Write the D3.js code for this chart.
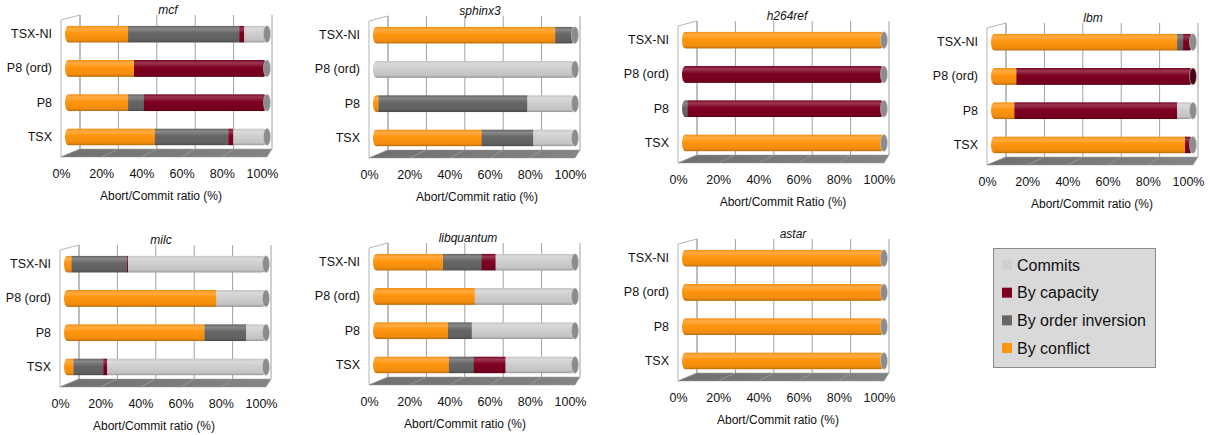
<!DOCTYPE html>
<html>
<head>
<meta charset="utf-8">
<script src="https://cdn.jsdelivr.net/npm/d3@7/dist/d3.min.js"></script>
<style>
  html, body { margin: 0; padding: 0; background: #fff; }
  svg { display: block; font-family: "Liberation Sans", Arial, sans-serif; }
</style>
</head>
<body>
<svg id="chart" width="1213" height="435"></svg>
<script>
// ---------------- DATA ----------------
const benchmarks = ["mcf", "sphinx3", "h264ref", "lbm", "milc", "libquantum", "astar"];
const configs = ["TSX-NI", "P8 (ord)", "P8", "TSX"];
const seriesKeys = ["conflict", "order", "capacity", "commits"];
const seriesNames = ["By conflict", "By order inversion", "By capacity", "Commits"];
const legendOrder = ["commits", "capacity", "order", "conflict"];
const tickValues = [0, 20, 40, 60, 80, 100];
const xTitles = ["Abort/Commit ratio (%)", "Abort/Commit ratio (%)", "Abort/Commit Ratio (%)",
                 "Abort/Commit ratio (%)", "Abort/Commit ratio (%)", "Abort/Commit ratio (%)",
                 "Abort/Commit ratio (%)"];

// values per benchmark, one entry per config (TSX-NI, P8 (ord), P8, TSX), in %
const byConflict = [
  [30, 33, 30, 43.5],
  [90, 0, 1, 53],
  [99.5, 0, 0, 99.5],
  [92, 11, 10, 96],
  [2, 75, 69, 3],
  [33.5, 49.5, 36, 36.5],
  [99.5, 99.5, 99.5, 99.5]
];
const byOrder = [
  [56, 0, 8, 37],
  [9.5, 0, 75, 26],
  [0, 0, 1, 0],
  [3, 0, 0, 0],
  [28, 0, 21, 15],
  [19.5, 0, 12, 12.5],
  [0, 0, 0, 0]
];
const byCapacity = [
  [2.5, 66, 61, 2.5],
  [0, 0, 0, 0],
  [0, 99.5, 98.5, 0],
  [4.5, 89, 82, 3.5],
  [0.5, 0, 0, 2],
  [7, 0, 0, 16],
  [0, 0, 0, 0]
];
const commits = [
  [11.5, 1, 1, 17],
  [0.5, 100, 24, 21],
  [0.5, 0.5, 0.5, 0.5],
  [0.5, 0, 8, 0.5],
  [69.5, 25, 10, 80],
  [40, 50.5, 52, 35],
  [0.5, 0.5, 0.5, 0.5]
];

// ---------------- LAYOUT / STYLE ----------------
const layout = [
  {L: 61,  T: 15,  tx: 168, ax: 161},
  {L: 369, T: 16,  tx: 480, ax: 477},
  {L: 678, T: 21,  tx: 787, ax: 783},
  {L: 987, T: 23,  tx: 1093, ax: 1092},
  {L: 60,  T: 245, tx: 161, ax: 154},
  {L: 369, T: 243, tx: 468, ax: 465},
  {L: 678, T: 239, tx: 793, ax: 778}
];
const colors = {conflict: "#ff950e", order: "#666666", capacity: "#7e0021", commits: "#cfcfcf"};
const capColors = {conflict: "#b86600", order: "#555555", capacity: "#4a0013", commits: "#8c8c8c"};

const svg = d3.select("#chart");
const defs = svg.append("defs");

// cylinder gradients
Object.entries(colors).forEach(([k, c]) => {
  const g = defs.append("linearGradient").attr("id", "grad-" + k)
    .attr("x1", 0).attr("y1", 0).attr("x2", 0).attr("y2", 1);
  const light = d3.interpolateRgb(c, "#ffffff")(0.22);
  const dark = d3.interpolateRgb(c, "#000000")(0.28);
  const mid = d3.interpolateRgb(c, "#000000")(0.06);
  g.append("stop").attr("offset", "0%").attr("stop-color", mid);
  g.append("stop").attr("offset", "18%").attr("stop-color", light);
  g.append("stop").attr("offset", "45%").attr("stop-color", c);
  g.append("stop").attr("offset", "85%").attr("stop-color", mid);
  g.append("stop").attr("offset", "100%").attr("stop-color", dark);
});
const floorGrad = defs.append("linearGradient").attr("id", "floorGrad")
  .attr("x1", 0).attr("y1", 0).attr("x2", 1).attr("y2", 0);
floorGrad.append("stop").attr("offset", "0%").attr("stop-color", "#6f6f6f");
floorGrad.append("stop").attr("offset", "100%").attr("stop-color", "#858585");

benchmarks.forEach((name, bi) => {
  const {L, T, tx, ax} = layout[bi];
  const g = svg.append("g");

  const xFront = d3.scaleLinear().domain([0, 100]).range([L, L + 201]);
  const xBack = d3.scaleLinear().domain([0, 100]).range([L + 19, L + 211]);
  const xBar = d3.scaleLinear().domain([0, 100]).range([L + 7.5, L + 206]);
  const y = d3.scaleBand().domain(configs).range([T + 2, T + 139]);

  const wallTop = T, floorBack = T + 134, floorFront = T + 142;

  // left wall
  g.append("path")
    .attr("d", `M${L},${T + 5}L${L + 19},${wallTop}L${L + 19},${floorBack}L${L},${floorFront}Z`)
    .attr("fill", "#ffffff").attr("stroke", "#b5b5b5").attr("stroke-width", 1);

  // back wall gridlines
  g.selectAll(".grid").data(tickValues).join("line")
    .attr("x1", d => xBack(d)).attr("x2", d => xBack(d))
    .attr("y1", wallTop).attr("y2", floorBack)
    .attr("stroke", "#a0a0a0").attr("stroke-width", 1);

  // floor
  g.append("path")
    .attr("d", `M${L},${floorFront}L${L + 19},${floorBack}L${L + 211},${floorBack}L${L + 206},${floorFront}Z`)
    .attr("fill", "url(#floorGrad)").attr("stroke", "#9a9a9a").attr("stroke-width", 0.5);
  g.selectAll(".floorline").data(tickValues.slice(1, -1)).join("line")
    .attr("x1", d => xBack(d)).attr("y1", floorBack)
    .attr("x2", d => xFront(d)).attr("y2", floorFront)
    .attr("stroke", "#9c9c9c").attr("stroke-width", 0.8);

  // bars
  const rows = configs.map((c, ci) => ({
    config: c,
    conflict: byConflict[bi][ci],
    order: byOrder[bi][ci],
    capacity: byCapacity[bi][ci],
    commits: commits[bi][ci]
  }));
  const stacked = d3.stack().keys(seriesKeys)(rows);
  const rx = 3.5, h = 17;

  configs.forEach((c, ci) => {
    const cy = y(c) + y.bandwidth() / 2;
    const clipId = `clip-${bi}-${ci}`;
    defs.append("clipPath").attr("id", clipId).append("rect")
      .attr("x", xBar(0) - rx).attr("y", cy - h / 2)
      .attr("width", xBar(100) - xBar(0) + rx).attr("height", h)
      .attr("rx", rx).attr("ry", h / 2);
    const bg = g.append("g").attr("clip-path", `url(#${clipId})`);
    let lastKey = null;
    stacked.forEach(s => {
      const d = s[ci];
      if (d[1] - d[0] <= 0) return;
      lastKey = s.key;
      const x0 = d[0] === 0 ? xBar(0) - rx : xBar(d[0]);
      bg.append("rect")
        .attr("x", x0).attr("y", cy - h / 2)
        .attr("width", Math.max(0, xBar(d[1]) - x0) + 0.3).attr("height", h)
        .attr("fill", `url(#grad-${s.key})`);
    });
    g.append("ellipse")
      .attr("cx", xBar(100)).attr("cy", cy).attr("rx", rx).attr("ry", h / 2)
      .attr("fill", capColors[lastKey]).attr("stroke", "#c8c8c8").attr("stroke-width", 0.6);
  });

  // x axis tick labels
  const xAxis = g.append("g").attr("transform", `translate(0,${T + 152})`)
    .call(d3.axisBottom(xFront).tickValues(tickValues).tickFormat(d => d + "%").tickSize(0).tickPadding(2.5));
  xAxis.select(".domain").remove();
  xAxis.selectAll("text").attr("font-size", 12.5).attr("fill", "#111")
    .attr("font-family", '"Liberation Sans", Arial, sans-serif');

  // y axis labels
  const yAxis = g.append("g").attr("transform", `translate(${L},0)`)
    .call(d3.axisLeft(y).tickSize(0).tickPadding(9));
  yAxis.select(".domain").remove();
  yAxis.selectAll("text").attr("font-size", 12.5).attr("fill", "#111")
    .attr("font-family", '"Liberation Sans", Arial, sans-serif');

  // title
  g.append("text").attr("x", tx).attr("y", T - 1).attr("text-anchor", "middle")
    .attr("font-size", 12).attr("font-style", "italic").attr("fill", "#111").text(name);
  // x title
  g.append("text").attr("x", ax).attr("y", T + 185).attr("text-anchor", "middle")
    .attr("font-size", 12).attr("fill", "#111").text(xTitles[bi]);
});

// legend
const lg = svg.append("g");
lg.append("rect").attr("x", 993.5).attr("y", 248.5).attr("width", 162).attr("height", 119)
  .attr("fill", "#d9d9d9").attr("stroke", "#8a8a8a").attr("stroke-width", 1);
const ly = d3.scalePoint().domain(legendOrder).range([265, 348]);
legendOrder.forEach(k => {
  lg.append("rect").attr("x", 1002).attr("y", ly(k) - 5).attr("width", 10).attr("height", 10)
    .attr("fill", colors[k]);
  lg.append("text").attr("x", 1017).attr("y", ly(k)).attr("dy", "0.35em")
    .attr("font-size", 16).attr("fill", "#111")
    .text(seriesNames[seriesKeys.indexOf(k)]);
});
</script>
</body>
</html>
